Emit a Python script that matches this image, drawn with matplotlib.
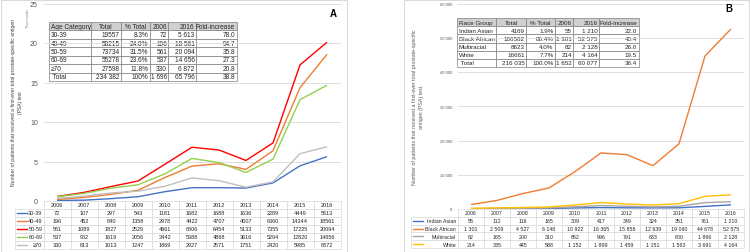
import numpy as np
import matplotlib.pyplot as plt
from matplotlib.patches import Rectangle
from matplotlib.ticker import FuncFormatter

years = ["2006", "2007", "2008", "2009", "2010", "2011", "2012", "2013", "2014", "2015", "2016"]

# panel A - age groups
age_groups = ["30-39", "40-49", "50-59", "60-69", "\u226570"]
age_30_39 = [72, 107, 297, 543, 1181, 1682, 1688, 1636, 2289, 4449, 5613]
age_40_49 = [196, 452, 840, 1358, 2978, 4422, 4707, 4007, 6360, 14344, 18561]
age_50_59 = [561, 1089, 1827, 2529, 4661, 6806, 6454, 5133, 7355, 17225, 20094]
age_60_69 = [537, 962, 1619, 2056, 3442, 5388, 4868, 3616, 5294, 12820, 14656]
age_70 = [330, 613, 1013, 1247, 1869, 2927, 2571, 1751, 2420, 5985, 6872]
age_colors = ["#4472c4", "#ed7d31", "#ff0000", "#92d050", "#bfbfbf"]

age_summary_cols = ["Age Category", "Total", "% Total", "2006", "2016", "Fold-increase"]
age_summary = [
    ["30-39", "19557", "8.3%", "72", "5 613", "78.0"],
    ["40-49", "58215", "24.8%", "196", "18 561", "94.7"],
    ["50-59", "73734", "31.5%", "561", "20 094", "35.8"],
    ["60-69", "55278", "23.6%", "537", "14 656", "27.3"],
    ["\u226570", "27598", "11.8%", "330", "6 872", "20.8"],
    [" Total", "234 382", "100%", "1 696", "65 796", "38.8"],
]

# panel B - race groups
race_groups = ["Indian Asian", "Black African", "Multiracial", "White"]
indian_asian = [55, 112, 116, 165, 309, 417, 349, 324, 351, 761, 1210]
black_african = [1301, 2509, 4527, 6148, 10922, 16365, 15858, 12639, 19060, 44678, 52575]
multiracial = [82, 165, 200, 310, 652, 996, 791, 633, 800, 1866, 2128]
white = [214, 335, 445, 588, 1152, 1899, 1459, 1151, 1563, 3691, 4164]
race_colors = ["#4472c4", "#ed7d31", "#a5a5a5", "#ffc000"]

race_summary_cols = ["Race Group", "Total", "% Total", "2006", "2016", "Fold-increase"]
race_summary = [
    ["Indian Asian", "4169", "1.9%", "55", "1 210", "22.0"],
    ["Black African", "186582", "86.4%", "1 301", "52 575", "40.4"],
    ["Multiracial", "8623", "4.0%", "82", "2 128", "26.0"],
    ["White", "16661", "7.7%", "214", "4 164", "19.5"],
    [" Total", "216 035", "100.0%", "1 652", "60 077", "36.4"],
]

plt.rcParams['font.family'] = ['Liberation Sans', 'DejaVu Sans']

W, H = 750, 253
fig = plt.figure(figsize=(W / 100, H / 100), dpi=100)


def px_axes(x0, x1, ytop, ybot):
    return fig.add_axes([x0 / W, (H - ybot) / H, (x1 - x0) / W, (ybot - ytop) / H])


def spaced(v):
    return f"{v:,.0f}".replace(",", " ")


def draw_panel(ax, series, names, colors, scale, ymax, step, fmt, tick_fs,
               leg_x0_px, ax_px, tbl_bottom_px, val_fmt, fs):
    x0, x1, ytop, ybot = ax_px
    x = np.arange(len(years))
    for s, c in zip(series, colors):
        ax.plot(x, np.array(s) / scale, color=c, lw=1.0, solid_capstyle='butt')
    ax.set_xlim(-0.5, len(years) - 0.5)
    ax.set_ylim(0, ymax)
    ax.set_yticks(np.arange(0, ymax + step / 2, step))
    ax.yaxis.set_major_formatter(FuncFormatter(fmt))
    ax.tick_params(axis='y', length=0, labelsize=tick_fs, labelcolor='#595959', pad=4)
    ax.set_xticks([])
    ax.grid(axis='y', color='#d9d9d9', lw=0.6)
    for sp in ax.spines.values():
        sp.set_visible(False)

    # data table under the chart
    wpx = x1 - x0
    hpx = ybot - ytop
    lx = (leg_x0_px - x0) / wpx
    th = (tbl_bottom_px - ybot) / hpx
    rows = [[""] + years]
    for n, s in zip(names, series):
        rows.append([n] + [val_fmt(v) for v in s])
    leg_w = x0 - leg_x0_px
    col_w = wpx / len(years)
    tb = ax.table(cellText=rows, colWidths=[leg_w] + [col_w] * len(years),
                  cellLoc='center', bbox=[lx, -th, 1 - lx, th])
    tb.auto_set_font_size(False)
    tb.set_fontsize(fs)
    nr = len(rows)
    for (r, c), cell in tb.get_celld().items():
        cell.set_edgecolor('#d9d9d9')
        cell.set_linewidth(0.5)
        cell.get_text().set_color('#262626')
        if c == 0:
            cell.get_text().set_ha('right')
            cell.PAD = 0.04
        if r == 0 and c == 0:
            cell.visible_edges = 'open'
    for i, col in enumerate(colors):
        yc = -(i + 1.5) * th / nr
        ax.plot([lx + 2 / wpx, lx + 12 / wpx], [yc, yc], color=col, lw=1.0,
                transform=ax.transAxes, clip_on=False)
    return tb


def summary_table(ax, cols, rows, bbox, widths, fs):
    tb = ax.table(cellText=rows, colLabels=cols, colWidths=widths, bbox=bbox,
                  cellLoc='right')
    tb.auto_set_font_size(False)
    tb.set_fontsize(fs)
    for (r, c), cell in tb.get_celld().items():
        cell.set_edgecolor('#7f7f7f')
        cell.set_linewidth(0.5)
        cell.PAD = 0.05
        t = cell.get_text()
        t.set_color('#262626')
        if r == 0:
            cell.set_facecolor('#d0d0d0')
            t.set_ha('left' if c == 0 else ('center' if c in (1, 2) else 'right'))
        elif c == 0:
            t.set_ha('left')
        else:
            t.set_ha('right')
    return tb


# panel frames
fig.add_artist(Rectangle((0.5 / W, 0.5 / H), 346.5 / W, 251.5 / H, transform=fig.transFigure,
                         fill=False, edgecolor='#d9d9d9', lw=0.7))
fig.add_artist(Rectangle((404 / W, 0.5 / H), 345 / W, 251.5 / H, transform=fig.transFigure,
                         fill=False, edgecolor='#d9d9d9', lw=0.7))

# ---- panel A
axA_px = (43.5, 340.5, 4.5, 202)
axA = px_axes(*axA_px)
draw_panel(axA, [age_30_39, age_40_49, age_50_59, age_60_69, age_70], age_groups, age_colors,
           1000, 25, 5, lambda v, p: f"{v:.0f}", 5, 15, axA_px, 250, lambda v: str(v), 4)
summary_table(axA, age_summary_cols, age_summary,
              [(49 - 43.5) / 297, (202 - 82) / 197.5, 188 / 297, 59 / 197.5],
              [42, 30, 29, 18, 28, 41], 4.7)
fig.text(28 / W, 1 - 18 / H, "Thousands", rotation=90, fontsize=3, color='#8c8c8c',
         ha='center', va='center')
fig.text(17 / W, 1 - 103 / H,
         "Number of patients that received a first-ever total prostate-specific antigen\n(PSA) test",
         rotation=90, fontsize=3.6, color='#404040', ha='center', va='center', linespacing=1.3)
fig.text(333 / W, 1 - 14 / H, "A", fontsize=7, fontweight='bold', ha='center', va='center')

# ---- panel B
axB_px = (458, 744, 4.5, 210)
axB = px_axes(*axB_px)
draw_panel(axB, [indian_asian, black_african, multiracial, white], race_groups, race_colors,
           1, 60000, 10000, lambda v, p: spaced(v), 3, 411, axB_px, 249, spaced, 3.8)
summary_table(axB, race_summary_cols, race_summary,
              [(457 - 458) / 286, (210 - 68) / 205.5, 182 / 286, 49 / 205.5],
              [39, 30, 29, 18, 26, 40], 4.5)
fig.text(418 / W, 1 - 107 / H,
         "Number of patients that received a first-ever total prostate-specific\nantigen (PSA) test",
         rotation=90, fontsize=3.8, color='#595959', ha='center', va='center', linespacing=1.3)
fig.text(729 / W, 1 - 9 / H, "B", fontsize=7, fontweight='bold', ha='center', va='center')

fig.savefig("out.png", dpi=100)
